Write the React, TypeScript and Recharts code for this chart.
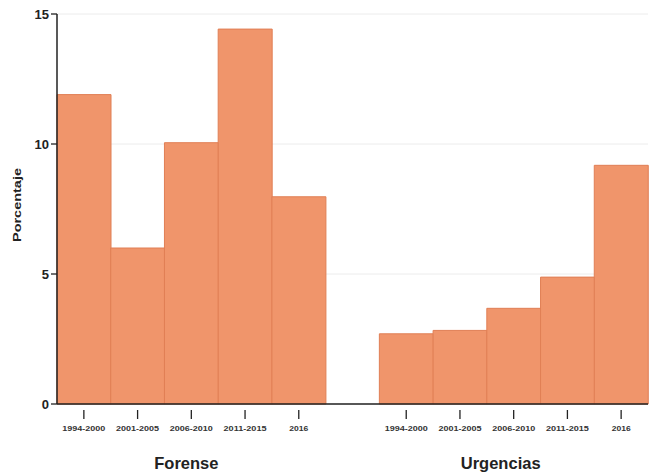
import React from 'react';
import { BarChart, Bar, XAxis, YAxis, CartesianGrid } from 'recharts';

// Two groups side by side, with one empty slot between them
const periods = ['1994-2000', '2001-2005', '2006-2010', '2011-2015', '2016'];
const forense = [11.9, 6.0, 10.05, 14.42, 7.97];
const urgencias = [2.7, 2.83, 3.68, 4.88, 9.18];
const groups = ['Forense', 'Urgencias'];
const yTicks = [0, 5, 10, 15];

const BAR_FILL = '#F0956B';
const BAR_STROKE = '#E07F55';
const FONT = '"Liberation Sans", Arial, sans-serif';

const data = [
  ...periods.map((p, i) => ({ key: `f-${p}`, label: p, group: groups[0], value: forense[i] })),
  { key: 'gap', label: '', group: '', value: null },
  ...periods.map((p, i) => ({ key: `u-${p}`, label: p, group: groups[1], value: urgencias[i] })),
];

const PeriodTick = (props: any) => {
  const { x, y, index } = props;
  const row = data[index];
  if (!row || !row.label) return null;
  const long = row.label.length > 4;
  return (
    <g transform={`translate(${x},${y})`}>
      <line x1={0} y1={-2} x2={0} y2={7} stroke="#222" strokeWidth={1.3} />
      <text
        x={0}
        y={19}
        textAnchor="middle"
        fontSize={8}
        fontWeight="bold"
        fill="#333"
        fontFamily={FONT}
        textLength={long ? 43 : 19}
        lengthAdjust="spacingAndGlyphs"
      >
        {row.label}
      </text>
    </g>
  );
};

const GroupTick = (props: any) => {
  const { x, y, index } = props;
  // label each group under its middle bar
  if (index !== 2 && index !== 8) return null;
  const dx = index === 2 ? -5 : -13;
  return (
    <text x={x + dx} y={y + 27} textAnchor="middle" fontSize={16.5} fontWeight="bold" fill="#222" fontFamily={FONT}>
      {data[index].group}
    </text>
  );
};

const YLabel = (props: any) => {
  const { viewBox } = props;
  const cx = viewBox.x + 17;
  const cy = viewBox.y + viewBox.height / 2 - 4;
  return (
    <text
      x={cx}
      y={cy}
      transform={`rotate(-90, ${cx}, ${cy})`}
      textAnchor="middle"
      dominantBaseline="central"
      fontSize={10.5}
      fontWeight="bold"
      fill="#222"
      fontFamily={FONT}
      textLength={74}
      lengthAdjust="spacingAndGlyphs"
    >
      Porcentaje
    </text>
  );
};

const App: React.FC = () => {
  return (
    <div style={{ position: 'absolute', left: 0, top: 0, background: '#fff' }}>
      <BarChart
        width={660}
        height={474}
        data={data}
        margin={{ top: 14, right: 12, left: 0, bottom: 0 }}
        barCategoryGap={0}
        barGap={0}
      >
        <CartesianGrid vertical={false} stroke="#ececec" strokeWidth={1} />
        <XAxis
          dataKey="key"
          height={30}
          interval={0}
          tickLine={false}
          axisLine={{ stroke: '#222', strokeWidth: 1.5 }}
          tick={<PeriodTick />}
        />
        <XAxis
          dataKey="key"
          xAxisId="group"
          height={40}
          interval={0}
          tickLine={false}
          axisLine={false}
          tick={<GroupTick />}
        />
        <YAxis
          width={57}
          domain={[0, 15]}
          ticks={yTicks}
          tickSize={6}
          tickLine={{ stroke: '#222', strokeWidth: 1.3 }}
          axisLine={{ stroke: '#222', strokeWidth: 1.5 }}
          tick={{ fontSize: 13, fontWeight: 'bold', fill: '#222', fontFamily: FONT }}
          label={<YLabel />}
        />
        <Bar dataKey="value" fill={BAR_FILL} stroke={BAR_STROKE} strokeWidth={1} isAnimationActive={false} />
      </BarChart>
    </div>
  );
};

export default App;
